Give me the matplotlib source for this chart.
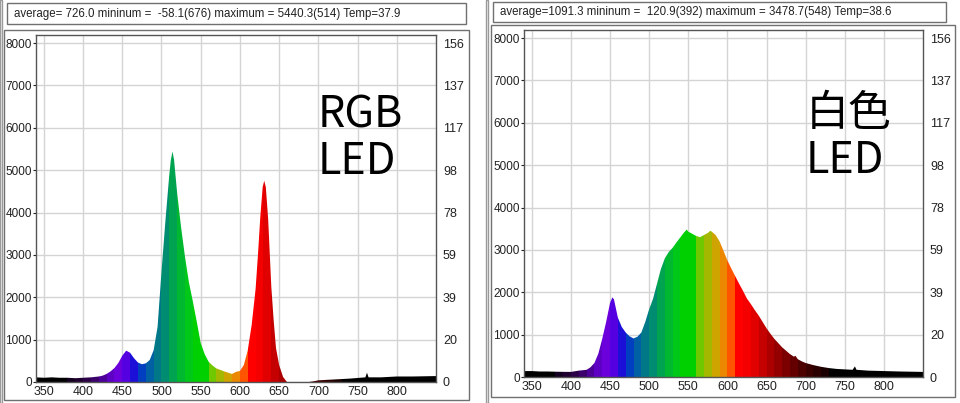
import numpy as np
import matplotlib
matplotlib.use("Agg")
import matplotlib.pyplot as plt
from matplotlib.patches import Rectangle

# valores (comprimento de onda nm, contagem)
rgb_nm = [340, 350, 360, 370, 380, 390, 400, 410, 420, 425, 430, 435, 440, 445, 450, 455,
          460, 465, 470, 475, 480, 485, 490, 495, 500, 505, 510, 512, 514, 516, 520, 525,
          530, 535, 540, 545, 550, 555, 560, 565, 570, 580, 590, 595, 600, 605, 610, 615,
          620, 623, 626, 629, 631, 633, 636, 638, 640, 643, 646, 650, 655, 660, 670, 676,
          685, 695, 700, 710, 720, 740, 760, 762, 764, 780, 800, 820, 850]
rgb_val = [110, 100, 110, 100, 100, 90, 100, 110, 130, 150, 190, 250, 330, 450, 620, 740,
           690, 560, 460, 420, 440, 520, 750, 1300, 2600, 3800, 4900, 5250, 5440, 5250, 4450, 3650,
           2950, 2350, 1900, 1420, 920, 660, 480, 390, 320, 250, 190, 240, 260, 400, 750, 1350,
           2200, 3000, 3900, 4600, 4750, 4600, 3850, 3050, 2250, 1460, 800, 400, 120, 0, -20, -58,
           -10, 20, 40, 50, 60, 80, 110, 220, 110, 110, 130, 130, 140]

wht_nm = [340, 350, 360, 370, 380, 392, 400, 410, 415, 420, 425, 430, 435, 440, 445, 450,
          453, 455, 460, 465, 470, 475, 480, 485, 490, 495, 500, 505, 510, 515, 520, 525,
          530, 535, 540, 545, 548, 550, 555, 560, 565, 570, 575, 578, 580, 585, 590, 595,
          600, 605, 610, 615, 620, 625, 630, 635, 640, 645, 650, 655, 660, 665, 670, 675,
          680, 685, 687, 690, 695, 700, 710, 720, 730, 740, 750, 760, 763, 765, 780, 800,
          820, 850]
wht_val = [140, 140, 130, 130, 125, 121, 120, 150, 160, 170, 230, 330, 550, 900, 1300, 1750,
           1880, 1830, 1400, 1180, 1050, 960, 910, 950, 1050, 1300, 1600, 1850, 2200, 2550, 2800, 2950,
           3050, 3180, 3300, 3420, 3479, 3430, 3380, 3330, 3300, 3350, 3400, 3450, 3430, 3350, 3200, 2980,
           2750, 2560, 2380, 2200, 2030, 1850, 1720, 1580, 1450, 1300, 1150, 1020, 900, 800, 700, 620,
           540, 480, 500, 420, 370, 330, 280, 240, 210, 190, 180, 170, 250, 170, 150, 140,
           130, 120]

headers = ["average= 726.0 mininum =  -58.1(676) maximum = 5440.3(514) Temp=37.9",
           "average=1091.3 mininum =  120.9(392) maximum = 3478.7(548) Temp=38.6"]
labels = ["RGB\nLED", "白色\nLED"]

xticks = [350, 400, 450, 500, 550, 600, 650, 700, 750, 800]
yticks = [0, 1000, 2000, 3000, 4000, 5000, 6000, 7000, 8000]
yticks_dir = ["0", "20", "39", "59", "78", "98", "117", "137", "156"]

# cores por faixa de 10 nm
faixas = [(340, 380, "#000000"), (380, 390, "#140020"), (390, 400, "#200030"), (400, 410, "#2c0048"),
          (410, 420, "#3c006c"), (420, 430, "#4c0098"), (430, 440, "#5e00c4"), (440, 450, "#6c00dc"),
          (450, 460, "#5400e0"), (460, 470, "#1c10d8"), (470, 480, "#0040c0"), (480, 490, "#0060a4"),
          (490, 500, "#007888"), (500, 510, "#008c70"), (510, 520, "#00a450"), (520, 530, "#00b830"),
          (530, 540, "#00c818"), (540, 560, "#00d000"), (560, 570, "#70c800"), (570, 580, "#a4b800"),
          (580, 590, "#d0a400"), (590, 600, "#ec8800"), (600, 610, "#ff5400"), (610, 620, "#ff0000"),
          (620, 630, "#f40000"), (630, 640, "#e00000"), (640, 650, "#c40000"), (650, 660, "#ac0000"),
          (660, 670, "#940000"), (670, 680, "#7c0000"), (680, 690, "#640000"), (690, 700, "#4c0000"),
          (700, 710, "#3a0000"), (710, 720, "#2a0000"), (720, 730, "#1a0000"), (730, 850, "#000000")]

plt.rcParams['font.family'] = ["Liberation Sans", "DejaVu Sans"]

fig = plt.figure(figsize=(9.6, 4.03), dpi=100)
W, H = 960.0, 403.0


def caixa(x0, y0, x1, y1, cor="#707070"):
    fig.patches.append(Rectangle((x0 / W, 1 - y1 / H), (x1 - x0) / W, (y1 - y0) / H,
                                 transform=fig.transFigure, fill=False, ec=cor, lw=1))


def painel(ax_px, nm, val, header, head_px, box_px, label, label_pos):
    x0, y0, x1, y1 = ax_px
    ax = fig.add_axes([x0 / W, 1 - y1 / H, (x1 - x0) / W, (y1 - y0) / H])
    ax.set_xlim(340, 850)
    ax.set_ylim(0, 8190)
    ax.set_xticks(xticks)
    ax.set_yticks(yticks)
    ax.grid(True, color="#d4d4d4", lw=1)
    ax.set_axisbelow(True)
    for s in ax.spines.values():
        s.set_color("#555555")
        s.set_linewidth(1)
    ax.tick_params(axis="x", length=0, labelsize=9, pad=3, colors="#222222")
    ax.tick_params(axis="y", length=2, labelsize=8.5, pad=1, colors="#222222")

    poly = ax.fill_between(nm, val, 0, color="none", lw=0)
    caminho = poly.get_paths()[0]
    for lo, hi, c in faixas:
        r = ax.axvspan(lo, hi, color=c, lw=0, zorder=2)
        r.set_clip_path(caminho, ax.transData)

    ax2 = ax.twinx()
    ax2.set_ylim(0, 8190)
    ax2.set_yticks(yticks)
    ax2.set_yticklabels(yticks_dir)
    ax2.tick_params(axis="y", length=0, labelsize=9, pad=5, colors="#222222")
    for s in ax2.spines.values():
        s.set_visible(False)

    ax.text(label_pos[0], label_pos[1], label, transform=ax.transData, fontsize=31,
            family=["Noto Sans CJK JP", "DejaVu Sans"], ha="left", va="top",
            linespacing=1.1, zorder=5)

    hx0, hy0, hx1, hy1 = head_px
    caixa(hx0, hy0, hx1, hy1)
    fig.text((hx0 + 7) / W, 1 - (hy0 + hy1) / 2 / H, header, fontsize=8.3, va="center",
             ha="left", color="#222222")
    bx0, by0, bx1, by1 = box_px
    caixa(bx0, by0, bx1, by1)


painel((36, 35, 436, 382), rgb_nm, rgb_val, headers[0], (7, 3, 466, 24),
       (4, 30, 469, 400), labels[0], (699, 6820))
painel((524, 30, 923, 377), wht_nm, wht_val, headers[1], (493, 2, 946, 22),
       (491, 25, 955, 397), labels[1], (700, 6725))

# linhas duplas nas bordas
caixa(0, 0, 2, 403, "#9a9a9a")
caixa(486, 0, 488, 403, "#9a9a9a")

fig.savefig("out.png", dpi=100)
